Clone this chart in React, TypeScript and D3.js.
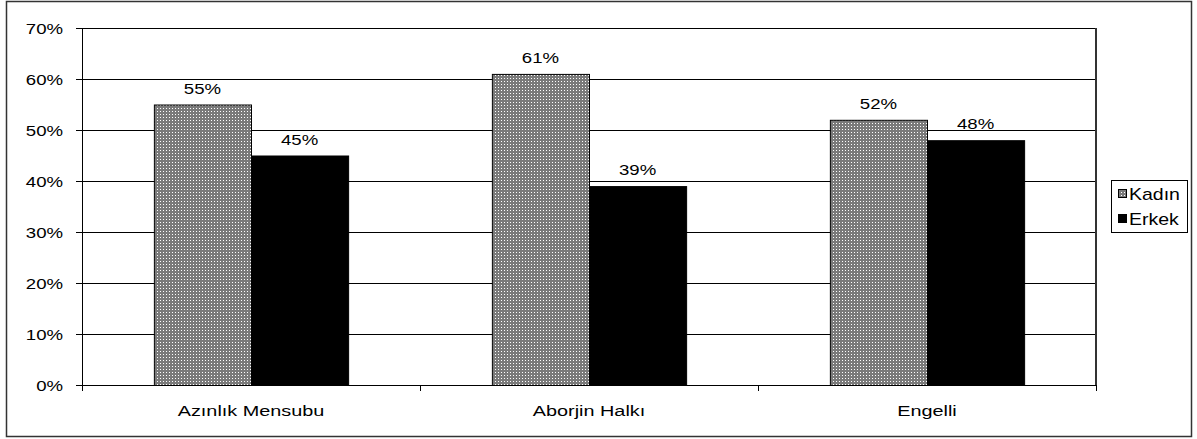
import React, { useEffect, useRef } from "react";
import * as d3 from "d3";

const categories = ["Azınlık Mensubu", "Aborjin Halkı", "Engelli"];
const seriesNames = ["Kadın", "Erkek"];
const kadinValues = [55, 61, 52];
const erkekValues = [45, 39, 48];
const yTicks = [0, 10, 20, 30, 40, 50, 60, 70];

const App = () => {
  const svgRef = useRef<SVGSVGElement>(null);

  useEffect(() => {
    const width = 1197;
    const height = 439;
    const margin = { top: 28, right: 101, bottom: 54, left: 82 };
    const font = "Arial, 'Liberation Sans', sans-serif";
    const sx = 1.2; // text in the original is a bit stretched horizontally

    const svg = d3.select(svgRef.current);
    svg.selectAll("*").remove();
    svg.attr("width", width).attr("height", height);

    // Pattern for the Kadın bars
    const defs = svg.append("defs");
    const pat = defs
      .append("pattern")
      .attr("id", "kadinPat")
      .attr("width", 3)
      .attr("height", 3)
      .attr("patternUnits", "userSpaceOnUse");
    pat.append("rect").attr("width", 3).attr("height", 3).attr("fill", "#7a7a7a");
    pat.append("rect").attr("width", 1).attr("height", 1).attr("fill", "#ffffff");

    // Outer border
    svg
      .append("rect")
      .attr("x", 6.5)
      .attr("y", 1.5)
      .attr("width", 1185)
      .attr("height", 435)
      .attr("fill", "#fff")
      .attr("stroke", "#333")
      .attr("stroke-width", 1.5);

    const x0 = d3
      .scaleBand()
      .domain(categories)
      .range([margin.left, width - margin.right]);
    const x1 = d3
      .scaleBand()
      .domain(seriesNames)
      .range([0, x0.bandwidth()])
      .paddingInner(0)
      .paddingOuter(0.74);
    const y = d3
      .scaleLinear()
      .domain([0, 70])
      .range([height - margin.bottom, margin.top]);

    const plotRight = width - margin.right;

    // Grid lines
    svg
      .append("g")
      .selectAll("line")
      .data(yTicks.filter((t) => t > 0))
      .enter()
      .append("line")
      .attr("x1", margin.left)
      .attr("x2", plotRight)
      .attr("y1", (d) => Math.round(y(d)) + 0.5)
      .attr("y2", (d) => Math.round(y(d)) + 0.5)
      .attr("stroke", "#000")
      .attr("stroke-width", 1);

    // Right border of plot area
    svg
      .append("line")
      .attr("x1", plotRight)
      .attr("x2", plotRight)
      .attr("y1", y(70))
      .attr("y2", y(0))
      .attr("stroke", "#333")
      .attr("stroke-width", 2);

    // Bars
    const data = categories.map((c, i) => ({
      category: c,
      values: [
        { name: "Kadın", value: kadinValues[i] },
        { name: "Erkek", value: erkekValues[i] },
      ],
    }));

    const groups = svg
      .append("g")
      .selectAll("g")
      .data(data)
      .enter()
      .append("g")
      .attr("transform", (d) => `translate(${x0(d.category)},0)`);

    groups
      .selectAll("rect")
      .data((d) => d.values)
      .enter()
      .append("rect")
      .attr("x", (d) => x1(d.name)! + 0.5)
      .attr("y", (d) => y(d.value) + 0.5)
      .attr("width", x1.bandwidth())
      .attr("height", (d) => y(0) - y(d.value))
      .attr("fill", (d) => (d.name === "Kadın" ? "url(#kadinPat)" : "#000"))
      .attr("stroke", "#000")
      .attr("stroke-width", 1);

    groups
      .selectAll("text")
      .data((d) => d.values)
      .enter()
      .append("text")
      .attr(
        "transform",
        (d) => `translate(${x1(d.name)! + x1.bandwidth() / 2},${y(d.value) - 11}) scale(${sx},1)`
      )
      .attr("text-anchor", "middle")
      .style("font-family", font)
      .style("font-size", "15.5px")
      .text((d) => `${d.value}%`);

    // Y axis
    const yAxis = svg.append("g");
    yAxis
      .append("line")
      .attr("x1", margin.left + 0.5)
      .attr("x2", margin.left + 0.5)
      .attr("y1", y(70))
      .attr("y2", y(0))
      .attr("stroke", "#000");
    yAxis
      .selectAll("line.tick")
      .data(yTicks)
      .enter()
      .append("line")
      .attr("class", "tick")
      .attr("x1", margin.left - 6)
      .attr("x2", margin.left)
      .attr("y1", (d) => Math.round(y(d)) + 0.5)
      .attr("y2", (d) => Math.round(y(d)) + 0.5)
      .attr("stroke", "#000");
    yAxis
      .selectAll("text")
      .data(yTicks)
      .enter()
      .append("text")
      .attr("transform", (d) => `translate(${margin.left - 19},${y(d) + 5.5}) scale(${sx},1)`)
      .attr("text-anchor", "end")
      .style("font-family", font)
      .style("font-size", "15.5px")
      .text((d) => `${d}%`);

    // X axis
    const xAxis = svg.append("g");
    xAxis
      .append("line")
      .attr("x1", margin.left)
      .attr("x2", plotRight)
      .attr("y1", Math.round(y(0)) + 0.5)
      .attr("y2", Math.round(y(0)) + 0.5)
      .attr("stroke", "#000");
    const bounds = categories.map((c) => x0(c)!).concat([plotRight]);
    xAxis
      .selectAll("line.tick")
      .data(bounds)
      .enter()
      .append("line")
      .attr("class", "tick")
      .attr("x1", (d) => Math.round(d) + 0.5)
      .attr("x2", (d) => Math.round(d) + 0.5)
      .attr("y1", y(0))
      .attr("y2", y(0) + 6)
      .attr("stroke", "#000");
    xAxis
      .selectAll("text")
      .data(categories)
      .enter()
      .append("text")
      .attr("transform", (d) => `translate(${x0(d)! + x0.bandwidth() / 2},${y(0) + 31}) scale(1.28,1)`)
      .attr("text-anchor", "middle")
      .style("font-family", font)
      .style("font-size", "15.5px")
      .text((d) => d);

    // Legend
    const legend = svg.append("g").attr("transform", "translate(1111,180)");
    legend
      .append("rect")
      .attr("x", 0.5)
      .attr("y", 0.5)
      .attr("width", 76)
      .attr("height", 52)
      .attr("fill", "#fff")
      .attr("stroke", "#000");
    seriesNames.forEach((name, i) => {
      const row = legend.append("g").attr("transform", `translate(7,${9 + i * 25})`);
      row
        .append("rect")
        .attr("x", 0.5)
        .attr("y", 0.5)
        .attr("width", 8)
        .attr("height", 8)
        .attr("fill", name === "Kadın" ? "url(#kadinPat)" : "#000")
        .attr("stroke", "#000");
      row
        .append("text")
        .attr("transform", `translate(11,10.5) scale(1.22,1)`)
        .style("font-family", font)
        .style("font-size", "16px")
        .text(name);
    });
  }, []);

  return (
    <div style={{ position: "fixed", top: 0, left: 0, background: "#fff" }}>
      <svg ref={svgRef}></svg>
    </div>
  );
};

export default App;
